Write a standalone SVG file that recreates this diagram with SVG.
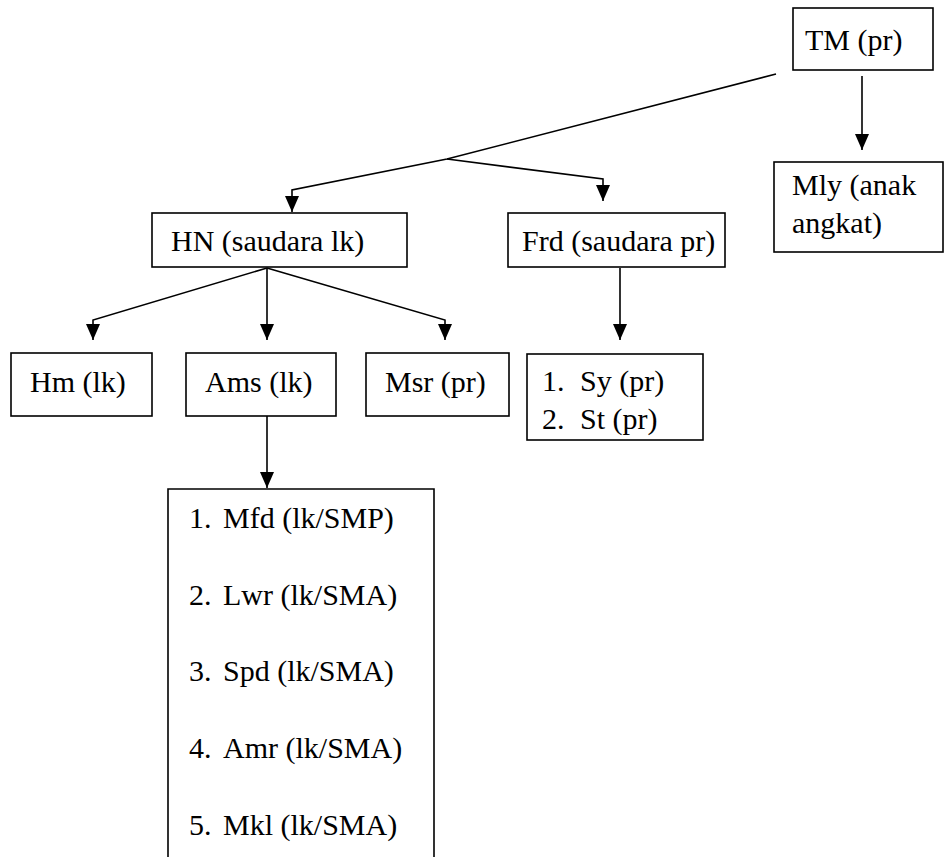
<svg xmlns="http://www.w3.org/2000/svg" width="944" height="857" viewBox="0 0 944 857">
<style>
.box{fill:#fff;stroke:#000;stroke-width:1.6}
.c{fill:none;stroke:#000;stroke-width:1.6}
</style>
<defs>
<marker id="ah" viewBox="0 0 16 14" refX="16" refY="7" markerWidth="16" markerHeight="14" markerUnits="userSpaceOnUse" orient="auto">
<path d="M0,0 L16,7 L0,14 z" fill="#000"/>
</marker>
</defs>
<rect width="944" height="857" fill="#fff"/>
<g id="connectors">
<path class="c" d="M862,76 V150" marker-end="url(#ah)"/>
<path class="c" d="M776,74 L447,159 L292,190 V212" marker-end="url(#ah)"/>
<path class="c" d="M447,159 L603,179 V201" marker-end="url(#ah)"/>
<path class="c" d="M267,268 L93,320 V340" marker-end="url(#ah)"/>
<path class="c" d="M267,268 V340" marker-end="url(#ah)"/>
<path class="c" d="M267,268 L445,320 V340" marker-end="url(#ah)"/>
<path class="c" d="M620,268 V340" marker-end="url(#ah)"/>
<path class="c" d="M267,416 V488" marker-end="url(#ah)"/>
</g>
<g font-family="'Liberation Serif', 'Times New Roman', Times, 'DejaVu Serif', serif" font-size="30" fill="#000">
<g id="tm">
<rect class="box" x="793" y="8" width="140" height="62"/>
<text x="805" y="50">TM (pr)</text>
</g>
<g id="mly">
<rect class="box" x="774" y="162" width="169" height="90"/>
<text x="792" y="195">Mly (anak</text>
<text x="792" y="233">angkat)</text>
</g>
<g id="hn">
<rect class="box" x="152" y="213" width="255" height="54"/>
<text x="171" y="251">HN (saudara lk)</text>
</g>
<g id="frd">
<rect class="box" x="508" y="213" width="217" height="54"/>
<text x="522" y="251">Frd (saudara pr)</text>
</g>
<g id="hm">
<rect class="box" x="11" y="353" width="141" height="63"/>
<text x="30" y="392">Hm (lk)</text>
</g>
<g id="ams">
<rect class="box" x="186" y="353" width="150" height="63"/>
<text x="205" y="392">Ams (lk)</text>
</g>
<g id="msr">
<rect class="box" x="366" y="353" width="143" height="63"/>
<text x="385" y="392">Msr (pr)</text>
</g>
<g id="frd-children">
<rect class="box" x="527" y="354" width="176" height="86"/>
<text x="542" y="391">1.</text><text x="580" y="391">Sy (pr)</text>
<text x="542" y="429">2.</text><text x="580" y="429">St (pr)</text>
</g>
<g id="ams-children">
<path class="box" d="M168,860 V489 H434 V860"/>
<text x="189" y="528">1.</text><text x="223" y="528">Mfd (lk/SMP)</text>
<text x="189" y="605">2.</text><text x="223" y="605">Lwr (lk/SMA)</text>
<text x="189" y="681">3.</text><text x="223" y="681">Spd (lk/SMA)</text>
<text x="189" y="758">4.</text><text x="223" y="758">Amr (lk/SMA)</text>
<text x="189" y="835">5.</text><text x="223" y="835">Mkl (lk/SMA)</text>
</g>
</g>
</svg>
